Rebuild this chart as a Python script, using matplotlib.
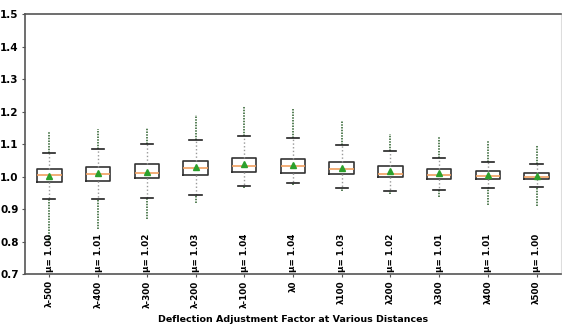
import matplotlib
matplotlib.use("Agg")
import matplotlib.pyplot as plt

# distances and box statistics
labels = ["λ-500", "λ-400", "λ-300", "λ-200", "λ-100", "λ0",
          "λ100", "λ200", "λ300", "λ400", "λ500"]
q1 = [0.982, 0.987, 0.995, 1.004, 1.013, 1.012, 1.007, 0.999, 0.994, 0.992, 0.992]
q3 = [1.022, 1.030, 1.038, 1.049, 1.058, 1.055, 1.044, 1.032, 1.022, 1.017, 1.011]
med = [1.004, 1.008, 1.012, 1.025, 1.032, 1.032, 1.022, 1.009, 1.005, 1.003, 1.000]
means = [1.003, 1.010, 1.015, 1.028, 1.038, 1.037, 1.027, 1.018, 1.010, 1.005, 1.001]
whislo = [0.930, 0.932, 0.933, 0.942, 0.971, 0.981, 0.964, 0.955, 0.959, 0.965, 0.967]
whishi = [1.074, 1.085, 1.099, 1.114, 1.125, 1.118, 1.097, 1.078, 1.057, 1.045, 1.038]
flier_lo = [0.80, 0.84, 0.87, 0.918, 0.965, 0.975, 0.955, 0.945, 0.937, 0.912, 0.909]
flier_hi = [1.138, 1.145, 1.150, 1.191, 1.218, 1.208, 1.172, 1.131, 1.122, 1.109, 1.097]
mu_text = ["1.00", "1.01", "1.02", "1.03", "1.04", "1.04",
           "1.03", "1.02", "1.01", "1.01", "1.00"]

stats = []
for i in range(len(labels)):
    stats.append({"label": labels[i], "q1": q1[i], "q3": q3[i], "med": med[i],
                  "mean": means[i], "whislo": whislo[i], "whishi": whishi[i],
                  "fliers": []})

fig = plt.figure(figsize=(5.62, 3.29), dpi=100)
ax = fig.add_axes([0.0445, 0.167, 0.9535, 0.79])

pos = list(range(1, len(labels) + 1))

# fliers as dense dotted streaks beyond the caps
ax.vlines(pos, whishi, flier_hi, colors="#2a5e2a", linestyles=(0, (1, 0.8)),
          linewidth=1.1, zorder=1)
ax.vlines(pos, flier_lo, whislo, colors="#2a5e2a", linestyles=(0, (1, 0.8)),
          linewidth=1.1, zorder=1)

ax.bxp(stats, positions=pos, widths=0.5, showmeans=True, showfliers=False,
       boxprops=dict(color="#333333", linewidth=1.2),
       whiskerprops=dict(color="#999999", linestyle=":", linewidth=1.0),
       capprops=dict(color="#222222", linewidth=1.2),
       medianprops=dict(color="#f0a060", linewidth=1.2),
       meanprops=dict(marker="^", markerfacecolor="#2ca02c",
                      markeredgecolor="#2ca02c", markersize=4.5))

for p, t in zip(pos, mu_text):
    ax.text(p, 0.705, "μ= " + t, rotation=90, ha="center", va="bottom",
            fontsize=6.3, fontweight="bold")

ax.set_ylim(0.7, 1.5)
ax.set_xlim(0.5, len(labels) + 0.5)
ax.set_yticks([0.7, 0.8, 0.9, 1.0, 1.1, 1.2, 1.3, 1.4, 1.5])
ax.set_xticks(pos)
ax.set_xticklabels(labels, rotation=90, fontsize=6.3, fontweight="bold")
for lab in ax.get_yticklabels():
    lab.set_fontweight("bold")
    lab.set_fontsize(7.5)
ax.tick_params(length=2.5, pad=2, color="#555555")
ax.set_xlabel("Deflection Adjustment Factor at Various Distances",
              fontsize=6.8, fontweight="bold", labelpad=5)

for s in ["left", "top", "bottom"]:
    ax.spines[s].set_color("#555555")
    ax.spines[s].set_linewidth(1.2)
ax.spines["right"].set_color("#dddddd")

fig.savefig("out.png", dpi=100)
